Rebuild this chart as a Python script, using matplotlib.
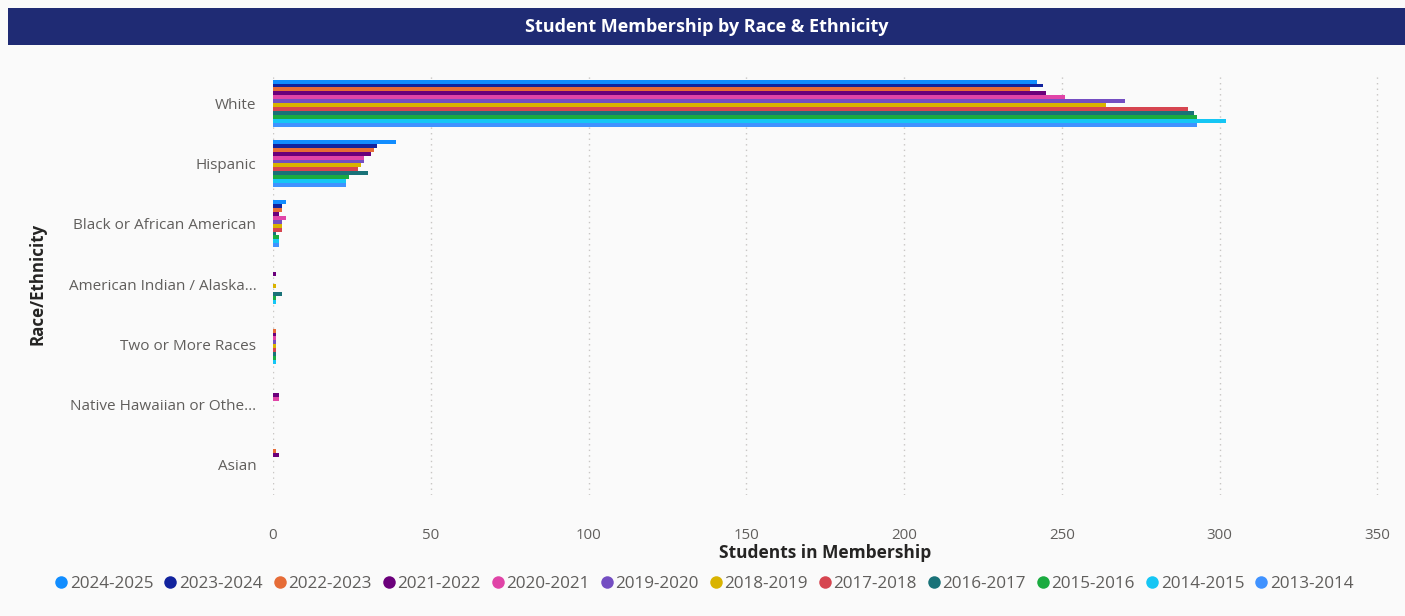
import matplotlib
matplotlib.use("Agg")
import matplotlib.pyplot as plt
from matplotlib.patches import Rectangle
from matplotlib.lines import Line2D
import numpy as np

plt.rcParams['font.family'] = ['Open Sans', 'DejaVu Sans']

categories = ["White", "Hispanic", "Black or African American",
              "American Indian / Alaska...", "Two or More Races",
              "Native Hawaiian or Othe...", "Asian"]

years = ["2024-2025", "2023-2024", "2022-2023", "2021-2022", "2020-2021",
         "2019-2020", "2018-2019", "2017-2018", "2016-2017", "2015-2016",
         "2014-2015", "2013-2014"]

colors = ["#118DFF", "#12239E", "#E66C37", "#6B007B", "#E044A7", "#744EC2",
          "#D9B300", "#D64550", "#197278", "#1AAB40", "#15C6F4", "#4092FF"]

# values[year] = per category (White, Hispanic, Black, AmInd, Two+, NatHaw, Asian)
values = {
    "2024-2025": [242, 39, 4, 0, 0, 0, 0],
    "2023-2024": [244, 33, 3, 0, 0, 0, 0],
    "2022-2023": [240, 32, 3, 0, 1, 0, 1],
    "2021-2022": [245, 31, 2, 1, 1, 2, 2],
    "2020-2021": [251, 29, 4, 0, 1, 2, 0],
    "2019-2020": [270, 29, 3, 0, 1, 0, 0],
    "2018-2019": [264, 28, 3, 1, 1, 0, 0],
    "2017-2018": [290, 27, 3, 0, 1, 0, 0],
    "2016-2017": [292, 30, 1, 3, 1, 0, 0],
    "2015-2016": [293, 24, 2, 1, 1, 0, 0],
    "2014-2015": [302, 23, 2, 1, 1, 0, 0],
    "2013-2014": [293, 23, 2, 0, 0, 0, 0],
}

xticks = [0, 50, 100, 150, 200, 250, 300, 350]

W, H = 1405, 616
fig = plt.figure(figsize=(W / 100, H / 100), dpi=100)
fig.patch.set_facecolor("#FAFAFA")

# Title bar
fig.patches.append(Rectangle((8 / W, 1 - 45 / H), (W - 8) / W, 37 / H,
                             transform=fig.transFigure, facecolor="#1F2B74",
                             edgecolor="none", zorder=0))
fig.text(707 / W, 1 - 27 / H, "Student Membership by Race & Ethnicity",
         color="white", fontsize=13, fontweight="bold", ha="center", va="center")

left_px, right_px = 273, 273 + 355 * 3.155
top_px, bot_px = 73, 495
ax = fig.add_axes([left_px / W, 1 - bot_px / H, (right_px - left_px) / W,
                   (bot_px - top_px) / H])
ax.set_facecolor("#FAFAFA")

n = len(years)
h = 0.065
ypos = np.arange(len(categories))
for j, yr in enumerate(years):
    ax.barh(ypos + (j - (n - 1) / 2) * h, values[yr], height=h,
            color=colors[j], edgecolor="none", zorder=3, label=yr)

ax.set_xlim(0, 355)
ax.set_ylim(len(categories) - 0.5, -0.5)
ax.set_xticks(xticks)
ax.set_yticks(ypos)
ax.set_yticklabels(categories)
ax.tick_params(axis="both", length=0, colors="#605E5C")
ax.tick_params(axis="x", pad=24, labelsize=10.8)
ax.tick_params(axis="y", pad=12, labelsize=11)
for s in ax.spines.values():
    s.set_visible(False)
ax.grid(axis="x", linestyle=(0, (1, 3)), color="#C8C6C4", linewidth=1, zorder=0)
ax.set_axisbelow(True)

fig.text(825 / W, 1 - 553 / H, "Students in Membership", fontsize=12.5,
         fontweight="bold", color="#252423", ha="center", va="center")
fig.text(37 / W, 1 - 284 / H, "Race/Ethnicity", fontsize=12.2, fontweight="bold",
         color="#252423", ha="center", va="center", rotation=90)

handles = [Line2D([0], [0], marker="o", linestyle="none", markersize=9,
                  markerfacecolor=c, markeredgecolor="none") for c in colors]
fig.legend(handles, years, loc="center", bbox_to_anchor=(703 / W, 1 - 584 / H),
           ncol=12, frameon=False, fontsize=12.3, handletextpad=0.0,
           columnspacing=0.5, labelcolor="#605E5C", handlelength=1.0)

fig.savefig("out.png", dpi=100, facecolor=fig.get_facecolor())
